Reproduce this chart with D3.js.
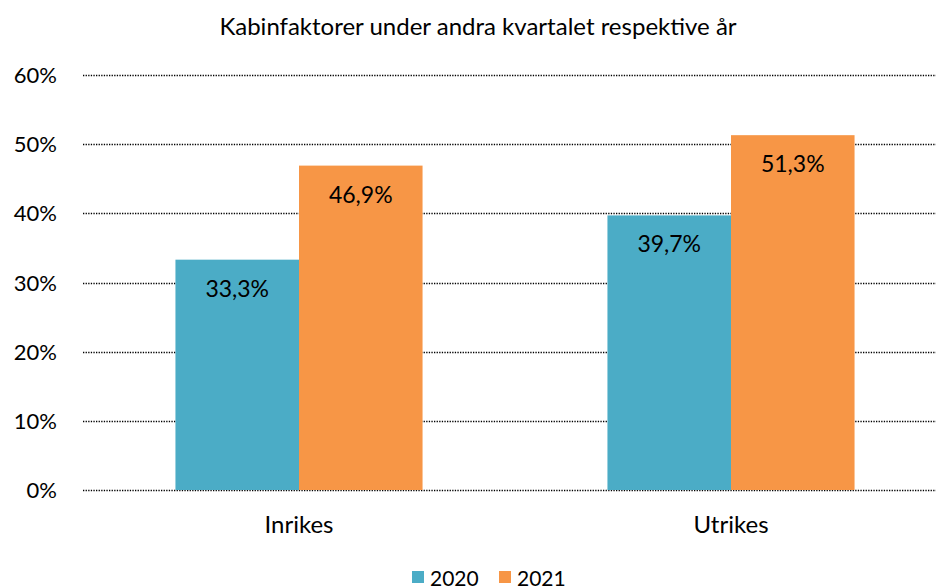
<!DOCTYPE html>
<html><head><meta charset="utf-8">
<script src="https://cdn.jsdelivr.net/npm/d3@7"></script>
<style>body{margin:0;background:#fff;} text{font-family:Lato,"Open Sans",sans-serif;fill:#000;}</style>
</head><body>
<svg id="c" width="936" height="587"></svg>
<script>
const categories = ["Inrikes", "Utrikes"];
const seriesNames = ["2020", "2021"];
const values2020 = [0.333, 0.397];
const values2021 = [0.469, 0.513];
const labels2020 = ["33,3%", "39,7%"];
const labels2021 = ["46,9%", "51,3%"];
const yTicks = [0, 0.1, 0.2, 0.3, 0.4, 0.5, 0.6];
const yTickLabels = ["0%", "10%", "20%", "30%", "40%", "50%", "60%"];
const colors = ["#4BACC6", "#F79646"];
const title = "Kabinfaktorer under andra kvartalet respektive år";

const svg = d3.select("#c");
const y = d3.scaleLinear().domain([0, 0.6]).range([490, 75]);
const x = d3.scaleBand().domain(categories).range([83, 947]).paddingInner(0.428).paddingOuter(0.214);
const xs = d3.scaleBand().domain(seriesNames).range([0, x.bandwidth()]);

svg.append("text").attr("x", 478).attr("y", 35).attr("text-anchor", "middle").style("font-size", "24px").text(title);

// grid
svg.append("g").selectAll("line").data(yTicks).join("line")
  .attr("x1", 83).attr("x2", 936).attr("y1", d => Math.round(y(d)) + 0.5).attr("y2", d => Math.round(y(d)) + 0.5)
  .attr("stroke", "#000").attr("stroke-width", 1.3).attr("stroke-dasharray", "1.3,1.3");

svg.append("g").selectAll("text").data(yTicks).join("text")
  .attr("x", 57).attr("y", d => y(d) + 8).attr("text-anchor", "end").style("font-size", "22px")
  .text((d, i) => yTickLabels[i]);

const series = [values2020, values2021];
const labs = [labels2020, labels2021];
series.forEach((vals, si) => {
  const g = svg.append("g");
  g.selectAll("rect").data(categories).join("rect")
    .attr("x", c => x(c) + xs(seriesNames[si]))
    .attr("width", xs.bandwidth())
    .attr("y", (c, i) => y(vals[i]))
    .attr("height", (c, i) => y(0) - y(vals[i]))
    .attr("fill", colors[si]);
  g.selectAll("text").data(categories).join("text")
    .attr("x", c => x(c) + xs(seriesNames[si]) + xs.bandwidth() / 2)
    .attr("y", (c, i) => y(vals[i]) + 37)
    .attr("text-anchor", "middle").style("font-size", "23px")
    .text((c, i) => labs[si][i]);
});

svg.append("g").selectAll("text").data(categories).join("text")
  .attr("x", c => x(c) + x.bandwidth() / 2).attr("y", 533).attr("text-anchor", "middle").style("font-size", "24px")
  .text(c => c);

const leg = svg.append("g");
const legX = [412, 499];
seriesNames.forEach((s, i) => {
  leg.append("rect").attr("x", legX[i]).attr("y", 571).attr("width", 12).attr("height", 12).attr("fill", colors[i]);
  leg.append("text").attr("x", legX[i] + 18).attr("y", 586).style("font-size", "21px").text(s);
});
</script>
</body></html>
